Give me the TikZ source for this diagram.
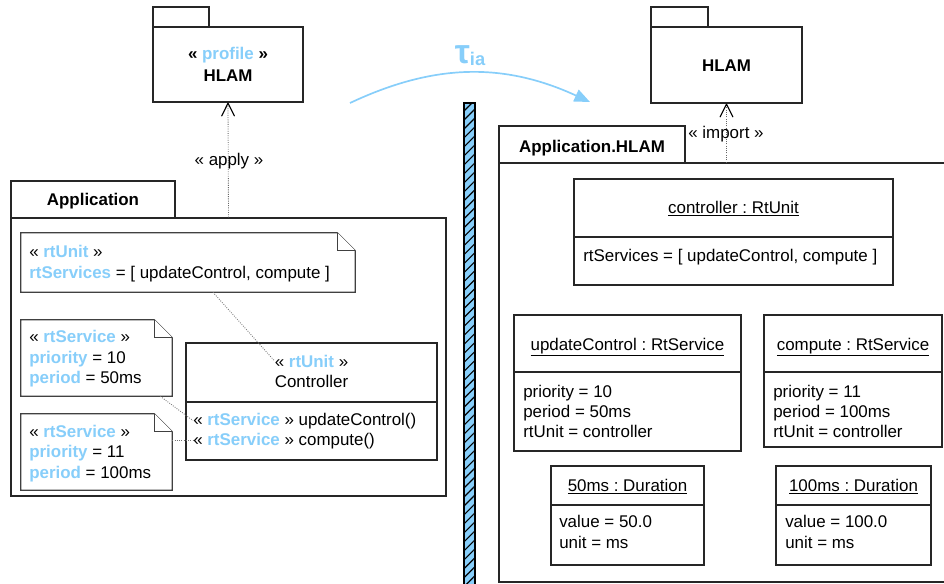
\documentclass[tikz,border=0pt]{standalone}
\usepackage{fontspec}
\setmainfont{Liberation Sans}
\usetikzlibrary{positioning, arrows.meta, fit, calc, patterns.meta}
\frenchspacing

\definecolor{skyb}{RGB}{135,206,250}
\newcommand{\kw}[1]{\textcolor{skyb}{\textbf{#1}}}
% note with folded corner around a fitted node
\newcommand{\dognote}[1]{%
  \draw[notefr] (#1.north west) -- ($(#1.north east)+(-18,0)$) -- ($(#1.north east)+(0,18)$)
    -- (#1.south east) -- (#1.south west) -- cycle;
  \draw[notefr] ($(#1.north east)+(-18,0)$) |- ($(#1.north east)+(0,18)$);}

\begin{document}
\begin{tikzpicture}[
    x=0.709pt, y=-0.709pt,
    every node/.style = {inner sep=0pt, font=\fontsize{12}{14.5}\selectfont},
    pkgbox/.style   = {draw=black!85, line width=0.9pt, fill=white},
    clsbox/.style   = {draw=black!85, line width=0.9pt, fill=white},
    divline/.style  = {draw=black!85, line width=0.9pt},
    notefr/.style   = {draw=black!75, line width=0.9pt, fill=white},
    boldtxt/.style  = {anchor=base, font=\fontsize{12}{14.5}\selectfont\bfseries},
    ctxt/.style     = {anchor=base},
    attr/.style     = {anchor=base west},
    dep/.style      = {densely dotted, draw=black!60, line width=0.6pt,
                       -{Straight Barb[length=9pt, width=9pt, line width=0.8pt, color=black, round]}},
    notelink/.style = {densely dotted, draw=black!55, line width=0.6pt},
    hatchbar/.style = {draw=black, line width=0.8pt, preaction={fill=skyb},
                       pattern={Lines[angle=45, distance=4.5pt, line width=0.8pt]}},
    taularr/.style  = {draw=skyb, line width=1.2pt, -{Triangle[length=11pt, width=9pt]}},
    taulbl/.style   = {anchor=base, text=skyb, font=\bfseries}
]
\useasboundingbox (0,0) rectangle (944,584);

% profile package
\node[pkgbox, fit={(153,7) (209,27)}] (proftab) {};
\node[pkgbox, fit={(153,27) (303,102)}] (profile) {};
\node[boldtxt] (profst) at (228,59) {« \kw{profile} »};
\node[boldtxt] (profname) at (228,81) {HLAM};

% target package
\node[pkgbox, fit={(651,7) (708,27)}] (hlamtab) {};
\node[pkgbox, fit={(651,27) (802,103)}] (hlam) {};
\node[boldtxt] (hlamname) at (726.5,71) {HLAM};

% transformation arrow
\coordinate (tauA) at (350,103);
\coordinate (tauB) at (590,102);
\draw[taularr] (tauA) to[bend left=25] (tauB);
\node[taulbl] (tau) at (470,63) {{\fontsize{24}{24}\selectfont τ}\raisebox{-2pt}{\fontsize{13}{13}\selectfont ia}};

% separator
\node[hatchbar, fit={(464,103) (475,590)}] (sep) {};

% source package
\node[pkgbox, fit={(11,181) (175,218)}] (apptab) {};
\node[pkgbox, fit={(11,218) (446,496)}] (app) {};
\node[boldtxt] (appname) at (93,205) {Application};

\draw[dep] (app.north) -- (profile.south);
\node[ctxt] (applylbl) at (229,165) {« apply »};

% notes
\node[fit={(21,233) (355,292)}] (note1) {};
\dognote{note1}
\node[attr] (n1a) at (29,257) {« \kw{rtUnit} »};
\node[attr] (n1b) at (29,278) {\kw{rtServices} = [ updateControl, compute ]};

\node[fit={(21,320) (172,396)}] (note2) {};
\dognote{note2}
\node[attr] (n2a) at (29,342) {« \kw{rtService} »};
\node[attr] (n2b) at (29,363) {\kw{priority} = 10};
\node[attr] (n2c) at (29,383) {\kw{period} = 50ms};

\node[fit={(21,414) (172,490)}] (note3) {};
\dognote{note3}
\node[attr] (n3a) at (29,437) {« \kw{rtService} »};
\node[attr] (n3b) at (29,457) {\kw{priority} = 11};
\node[attr] (n3c) at (29,478) {\kw{period} = 100ms};

% Controller class
\node[clsbox, fit={(186,343) (437,460)}] (ctrl) {};
\draw[divline] (ctrl.west |- 0,402) -- (ctrl.east |- 0,402);
\node[ctxt] (ctrlst) at (311.5,367) {« \kw{rtUnit} »};
\node[ctxt] (ctrlname) at (311.5,387) {Controller};
\node[attr] (op1) at (193,425) {« \kw{rtService} » updateControl()};
\node[attr] (op2) at (193,445) {« \kw{rtService} » compute()};

\draw[notelink] ($(note1.south)+(25,0)$) -- (ctrlst.west);
\draw[notelink] ($(note2.south east)+(-12,0)$) -- (op1.west);
\draw[notelink] (note3.east |- op2.west) -- (op2.west);

% Application.HLAM package
\node[pkgbox, fit={(499,126) (685,163)}] (ahtab) {};
\node[pkgbox, fit={(499,163) (960,582)}] (ah) {};
\node[boldtxt] (ahname) at (592,152) {Application.HLAM};

\draw[dep] (hlam.south |- ah.north) -- (hlam.south);
\node[ctxt] (importlbl) at (726,138) {« import »};

% instances
\node[clsbox, fit={(574,179) (893,285)}] (ctrlobj) {};
\draw[divline] (ctrlobj.west |- 0,237) -- (ctrlobj.east |- 0,237);
\node[ctxt] (ctrlobjname) at (733.5,213) {\underline{controller : RtUnit}};
\node[attr] (ctrlobja) at (583,261) {rtServices = [ updateControl, compute ]};

\node[clsbox, fit={(514,315) (741,451)}] (updobj) {};
\draw[divline] (updobj.west |- 0,372) -- (updobj.east |- 0,372);
\node[ctxt] (updobjname) at (627.5,350) {\underline{updateControl : RtService}};
\node[attr] (updobja) at (523,397) {priority = 10};
\node[attr] (updobjb) at (523,417) {period = 50ms};
\node[attr] (updobjc) at (523,437) {rtUnit = controller};

\node[clsbox, fit={(764,315) (942,447)}] (cmpobj) {};
\draw[divline] (cmpobj.west |- 0,372) -- (cmpobj.east |- 0,372);
\node[ctxt] (cmpobjname) at (853,350) {\underline{compute : RtService}};
\node[attr] (cmpobja) at (773,397) {priority = 11};
\node[attr] (cmpobjb) at (773,417) {period = 100ms};
\node[attr] (cmpobjc) at (773,437) {rtUnit = controller};

\node[clsbox, fit={(551,466) (704,565)}] (d50) {};
\draw[divline] (d50.west |- 0,505) -- (d50.east |- 0,505);
\node[ctxt] (d50name) at (627.5,491) {\underline{50ms : Duration}};
\node[attr] (d50a) at (559,527) {value = 50.0};
\node[attr] (d50b) at (559,548) {unit = ms};

\node[clsbox, fit={(776,466) (931,565)}] (d100) {};
\draw[divline] (d100.west |- 0,505) -- (d100.east |- 0,505);
\node[ctxt] (d100name) at (853.5,491) {\underline{100ms : Duration}};
\node[attr] (d100a) at (785,527) {value = 100.0};
\node[attr] (d100b) at (785,548) {unit = ms};

\end{tikzpicture}
\end{document}
